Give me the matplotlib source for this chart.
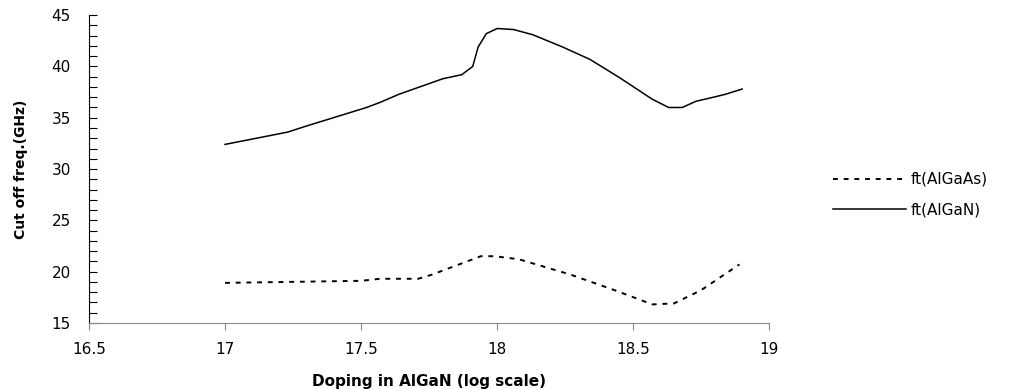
import numpy as np
from matplotlib import pyplot as plt
from matplotlib.ticker import MultipleLocator

plt.rcParams['font.family'] = ['DejaVu Sans']

# ft(AlGaN), solid line
x_gan = [17.0, 17.23, 17.30, 17.52, 17.57, 17.64, 17.80, 17.87, 17.91, 17.93, 17.96,
         18.0, 18.06, 18.13, 18.24, 18.34, 18.45, 18.57, 18.63, 18.68, 18.73, 18.81,
         18.84, 18.90]
y_gan = [32.4, 33.6, 34.2, 36.0, 36.5, 37.3, 38.8, 39.2, 40.0, 41.9, 43.2,
         43.7, 43.6, 43.1, 41.9, 40.7, 38.9, 36.8, 36.0, 36.0, 36.6, 37.1,
         37.3, 37.8]

# ft(AlGaAs), dotted line
x_gaas = [17.0, 17.5, 17.57, 17.71, 17.76, 17.94, 17.99, 18.08, 18.27, 18.43, 18.57,
          18.65, 18.75, 18.89]
y_gaas = [18.9, 19.1, 19.3, 19.3, 19.7, 21.5, 21.5, 21.2, 19.7, 18.2, 16.8,
          16.9, 18.2, 20.7]

fig = plt.figure(figsize=(10.11, 3.89), dpi=100)
ax = fig.add_axes([0.088, 0.170, 0.673, 0.791])

ax.plot(x_gaas, y_gaas, color='black', lw=1.4, ls=(0, (2.5, 3)), label='ft(AlGaAs)')
ax.plot(x_gan, y_gan, color='black', lw=1.1, label='ft(AlGaN)')

ax.set_xlim(16.5, 19)
ax.set_ylim(15, 45)
ax.set_xticks([16.5, 17, 17.5, 18, 18.5, 19])
ax.set_xticklabels(['16.5', '17', '17.5', '18', '18.5', '19'])
ax.set_yticks([15, 20, 25, 30, 35, 40, 45])
ax.yaxis.set_minor_locator(MultipleLocator(1))
ax.tick_params(axis='y', direction='in', length=6, width=0.8, labelsize=11, pad=13)
ax.tick_params(axis='y', which='minor', direction='in', length=6, width=0.8)
ax.tick_params(axis='x', direction='out', length=5, width=0.8, color='#888888',
               labelsize=11, pad=9)

for s in ['top', 'right']:
    ax.spines[s].set_visible(False)
ax.spines['bottom'].set_color('#888888')
ax.spines['left'].set_color('black')

ax.set_xlabel('Doping in AlGaN (log scale)', fontsize=11, fontweight='bold', labelpad=12)
ax.set_ylabel('Cut off freq.(GHz)', fontsize=10, fontweight='bold')
ax.yaxis.set_label_coords(-0.09, 0.5)

fig.legend(loc='center left', bbox_to_anchor=(0.81, 0.5), frameon=False,
           fontsize=11, handlelength=4.8, handletextpad=0.3, labelspacing=1.0)

fig.savefig('out.png', dpi=100)
